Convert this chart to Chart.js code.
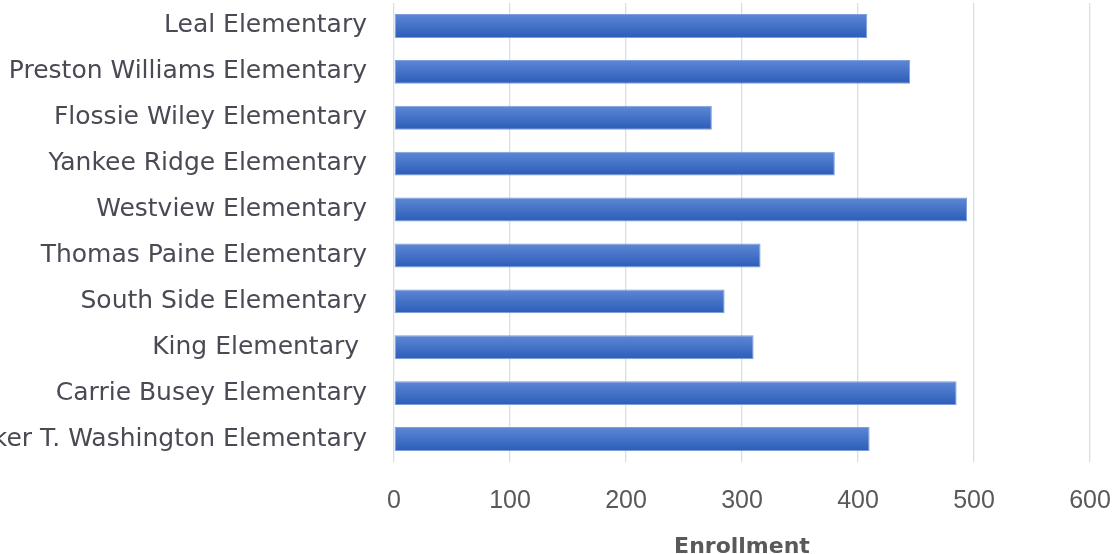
<!DOCTYPE html>
<html>
<head>
<meta charset="utf-8">
<script src="https://cdn.jsdelivr.net/npm/chart.js@4/dist/chart.umd.min.js"></script>
<style>
  html, body { margin: 0; padding: 0; background: #ffffff; }
  #wrap { width: 1116px; height: 554px; position: relative; }
</style>
</head>
<body>
<div id="wrap"><canvas id="c" width="1116" height="554"></canvas></div>
<script>
const schools = [
  "Leal Elementary",
  "Preston Williams Elementary",
  "Flossie Wiley Elementary",
  "Yankee Ridge Elementary",
  "Westview Elementary",
  "Thomas Paine Elementary",
  "South Side Elementary",
  "King Elementary ",
  "Carrie Busey Elementary",
  "Booker T. Washington Elementary"
];
const enrollment = [408, 445, 274, 380, 494, 316, 285, 310, 485, 410];
const xTicks = [0, 100, 200, 300, 400, 500, 600];
const xTitle = "Enrollment";

const BAR_FRACTION = 0.52;

function barGradient(ctx) {
  const chart = ctx.chart;
  const ys = chart.scales && chart.scales.y;
  if (!ys || ctx.dataIndex === undefined || !chart.ctx) return '#3e6cc6';
  const center = ys.getPixelForValue(ctx.dataIndex);
  const cat = (ys.bottom - ys.top) / schools.length;
  const h = cat * BAR_FRACTION;
  if (!isFinite(center) || !isFinite(h) || h <= 0) return '#3e6cc6';
  const g = chart.ctx.createLinearGradient(0, center - h / 2, 0, center + h / 2);
  g.addColorStop(0, '#5e88d6');
  g.addColorStop(1, '#2b5cb8');
  return g;
}

function zeroPad(s) {
  s.paddingTop = 0; s.paddingBottom = 0; s.paddingLeft = 0; s.paddingRight = 0;
}

new Chart(document.getElementById('c'), {
  type: 'bar',
  data: {
    labels: schools,
    datasets: [{
      data: enrollment,
      backgroundColor: barGradient,
      borderColor: '#7d9ddc',
      borderWidth: 1,
      borderSkipped: false,
      barPercentage: BAR_FRACTION,
      categoryPercentage: 1
    }]
  },
  options: {
    indexAxis: 'y',
    responsive: false,
    animation: false,
    layout: { padding: { top: 3, right: 26, bottom: 0, left: 0 } },
    plugins: { legend: { display: false }, tooltip: { enabled: false } },
    scales: {
      x: {
        min: 0, max: 600,
        afterBuildTicks: (s) => { s.ticks = xTicks.map(v => ({ value: v })); },
        afterFit: (s) => { s.height = 92; zeroPad(s); },
        grid: { display: true, color: '#d8deea', lineWidth: 1.3, drawTicks: false },
        border: { display: false },
        ticks: {
          padding: 24,
          color: '#595959',
          font: { family: 'Liberation Sans', size: 25 }
        },
        title: {
          display: true,
          text: xTitle,
          color: '#595959',
          font: { family: 'DejaVu Sans', size: 22, weight: 'bold' },
          padding: { top: 0, bottom: -6 }
        }
      },
      y: {
        afterFit: (s) => { s.width = 394; zeroPad(s); },
        grid: { display: false, drawTicks: false },
        border: { display: false },
        ticks: {
          padding: 27,
          color: '#4a4a55',
          autoSkip: false,
          font: { family: 'DejaVu Sans', size: 25 }
        }
      }
    }
  }
});
</script>
</body>
</html>
